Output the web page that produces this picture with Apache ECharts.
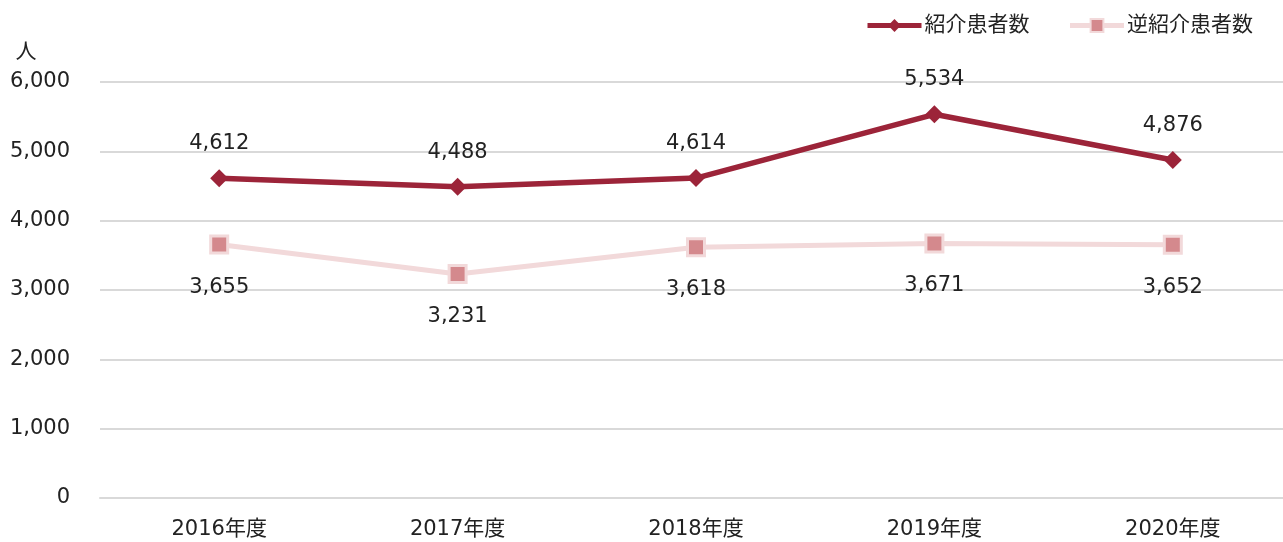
<!DOCTYPE html>
<html><head><meta charset="utf-8">
<script src="https://cdn.jsdelivr.net/npm/echarts@6/dist/echarts.min.js"></script>
<style>html,body{margin:0;padding:0;background:#fff;overflow:hidden}#c{width:1300px;height:542px}</style>
</head><body><div id="c"></div>
<script>
const categories = ['2016年度','2017年度','2018年度','2019年度','2020年度'];
const referrals = [4612, 4488, 4614, 5534, 4876];
const reverseReferrals = [3655, 3231, 3618, 3671, 3652];
const seriesNames = ['紹介患者数','逆紹介患者数'];
const yTicks = {min:0, max:6000, interval:1000};

const FONT = '"DejaVu Sans", "Noto Sans CJK JP", sans-serif';
const FS = 21;
const chart = echarts.init(document.getElementById('c'));
chart.setOption({
  animation:false,
  textStyle:{fontFamily:FONT},
  grid:{left:100, width:1192, top:82, height:416},
  legend:{
    right:42, top:10, itemWidth:54, itemHeight:16, itemGap:38,
    textStyle:{fontSize:FS, color:'#222', fontFamily:FONT, padding:[0,0,0,-2]},
    lineStyle:{width:5},
    data:seriesNames
  },
  xAxis:{
    type:'category', data:categories, boundaryGap:true,
    axisLine:{show:true, lineStyle:{color:'#d9d9d9', width:2}},
    axisTick:{show:false},
    axisLabel:{fontSize:FS, color:'#222', margin:21, fontFamily:FONT}
  },
  yAxis:{
    type:'value', min:yTicks.min, max:yTicks.max, interval:yTicks.interval,
    name:'人', nameLocation:'end', nameGap:19,
    nameTextStyle:{fontSize:FS, color:'#222', align:'center', padding:[0,0,0,-148]},
    axisLine:{show:false}, axisTick:{show:false},
    splitLine:{lineStyle:{color:'#d9d9d9', width:2}},
    axisLabel:{fontSize:FS, color:'#222', margin:30, padding:[5,0,0,0],
      formatter:v=>v.toLocaleString('en-US')}
  },
  series:[
    {
      name:seriesNames[0], type:'line', data:referrals,
      symbol:'diamond', symbolSize:18,
      lineStyle:{color:'#9c2439', width:5.5},
      itemStyle:{color:'#9c2439'},
      label:{show:true, position:'top', distance:15, fontSize:FS, color:'#222',
        formatter:p=>p.value.toLocaleString('en-US')}
    },
    {
      name:seriesNames[1], type:'line', data:reverseReferrals,
      symbol:'rect', symbolSize:17,
      lineStyle:{color:'#f2d9da', width:5},
      itemStyle:{color:'#d4898d', borderColor:'#f2d9da', borderWidth:3},
      label:{show:true, position:'bottom', distance:22, fontSize:FS, color:'#222',
        formatter:p=>p.value.toLocaleString('en-US')}
    }
  ]
});
</script></body></html>
